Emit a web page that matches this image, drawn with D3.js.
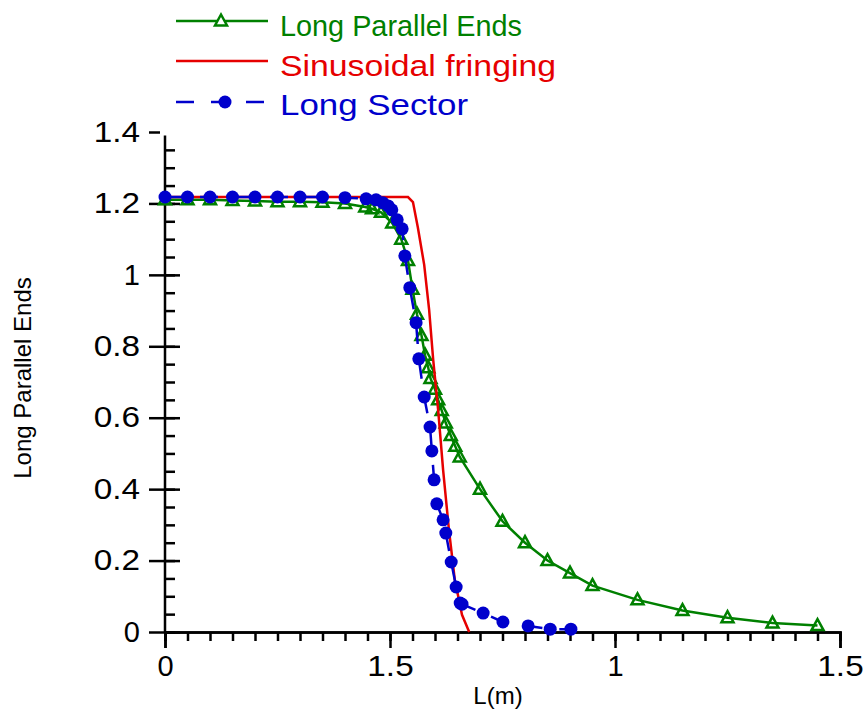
<!DOCTYPE html>
<html>
<head>
<meta charset="utf-8">
<script src="https://cdn.jsdelivr.net/npm/d3@7"></script>
<style>
  body { margin: 0; background: #fff; }
  svg text { font-family: "Liberation Sans", Arial, sans-serif; }
  .axis path, .axis line { stroke: #000; stroke-width: 2.5; }
</style>
</head>
<body>
<svg id="chart" width="863" height="728"></svg>
<script>
// tick values and the labels exactly as printed on the picture
var xTickValues = [0, 0.5, 1, 1.5]
var xTickLabels = ["0", "1.5", "1", "1.5"]
var yTickValues = [0, 0.2, 0.4, 0.6, 0.8, 1, 1.2, 1.4]
var yTickLabels = ["0", "0.2", "0.4", "0.6", "0.8", "1", "1.2", "1.4"]

var seriesNames = ["Long Parallel Ends", "Sinusoidal fringing", "Long Sector"]

// Long Parallel Ends (triangles)
var parallelX = [0, 0.05, 0.1, 0.15, 0.2, 0.25, 0.3, 0.35, 0.4, 0.445, 0.46, 0.48, 0.505,
  0.525, 0.54, 0.55, 0.56, 0.57, 0.578, 0.585, 0.59, 0.6, 0.607, 0.615, 0.624, 0.635,
  0.645, 0.655, 0.7, 0.75, 0.8, 0.85, 0.9, 0.95, 1.05, 1.15, 1.25, 1.35, 1.45]
var parallelY = [1.21, 1.21, 1.21, 1.208, 1.207, 1.205, 1.205, 1.203, 1.2, 1.19, 1.185,
  1.175, 1.145, 1.1, 1.04, 0.96, 0.89, 0.83, 0.775, 0.74, 0.71, 0.68, 0.65, 0.62, 0.585,
  0.55, 0.52, 0.49, 0.4, 0.31, 0.25, 0.2, 0.165, 0.13, 0.09, 0.06, 0.04, 0.025, 0.018]

// Sinusoidal fringing (plain line)
var sinusX = [0, 0.54, 0.551, 0.562, 0.576, 0.587, 0.596, 0.607, 0.618, 0.631, 0.644, 0.66, 0.676]
var sinusY = [1.218, 1.218, 1.204, 1.132, 1.028, 0.902, 0.762, 0.622, 0.454, 0.286, 0.146, 0.048, 0]

// Long Sector (dashed, circles)
var sectorX = [0, 0.05, 0.1, 0.15, 0.2, 0.25, 0.3, 0.35, 0.4, 0.447, 0.469, 0.484, 0.496,
  0.504, 0.516, 0.527, 0.533, 0.544, 0.558, 0.564, 0.576, 0.589, 0.593, 0.598, 0.604,
  0.618, 0.624, 0.636, 0.647, 0.656, 0.66, 0.707, 0.751, 0.807, 0.856, 0.902]
var sectorY = [1.218, 1.218, 1.218, 1.218, 1.218, 1.218, 1.218, 1.218, 1.216, 1.213, 1.21,
  1.202, 1.193, 1.182, 1.154, 1.129, 1.053, 0.964, 0.866, 0.765, 0.658, 0.574, 0.507,
  0.426, 0.359, 0.314, 0.277, 0.196, 0.126, 0.081, 0.078, 0.053, 0.028, 0.017, 0.008, 0.008]

var colors = { green: "#008000", red: "#e60000", blue: "#0000cc" }

var svg = d3.select("#chart")
var x = d3.scaleLinear().domain([0, 1.5]).range([165, 840])
var y = d3.scaleLinear().domain([0, 1.4]).range([632, 132])

function zip(xs, ys) {
  return xs.map(function(v, i) { return [v, ys[i]] })
}

// the original font has broader glyphs than Liberation Sans
function widen(sel, extra) {
  sel.each(function() {
    var t = d3.select(this)
    if (t.text().length > 1) {
      t.attr("textLength", this.getComputedTextLength() + extra)
        .attr("lengthAdjust", "spacingAndGlyphs")
    }
  })
}

// x axis: minor ticks every 0.05, major at the labelled values
var xMinor = d3.range(0, 31).map(function(i) { return i * 0.05 })
svg.append("g")
  .attr("class", "axis")
  .attr("transform", "translate(0," + y(0) + ")")
  .call(d3.axisBottom(x).tickValues(xMinor).tickSize(9).tickFormat(""))
svg.append("g")
  .attr("class", "axis")
  .attr("transform", "translate(0," + y(0) + ")")
  .call(d3.axisBottom(x).tickValues(xTickValues).tickSize(16).tickPadding(7)
    .tickFormat(function(d, i) { return xTickLabels[i] }))

// y axis: major ticks cross the axis, minor ticks point inward
var yMinor = d3.range(0, 28).map(function(i) { return i * 0.05 })
svg.append("g")
  .attr("class", "axis")
  .attr("transform", "translate(" + x(0) + ",0)")
  .call(d3.axisRight(y).tickValues(yMinor).tickSize(10).tickFormat(""))
  .select(".domain").remove()
svg.append("g")
  .attr("class", "axis")
  .attr("transform", "translate(" + x(0) + ",0)")
  .call(d3.axisRight(y).tickValues(yTickValues.slice(0, 7)).tickSize(15).tickFormat(""))
  .select(".domain").remove()
var yAxis = svg.append("g")
  .attr("class", "axis")
  .attr("transform", "translate(" + x(0) + ",0)")
  .call(d3.axisLeft(y).tickValues(yTickValues).tickSize(16).tickPadding(9)
    .tickFormat(function(d, i) { return yTickLabels[i] }))
yAxis.select(".domain").attr("d", "M0," + y(0) + "V" + y(1.39))
yAxis.selectAll(".tick line").filter(function(d) { return d === 1.4 })
  .attr("x1", -5).attr("x2", -16)

svg.selectAll(".axis text")
  .attr("font-size", "29px")
  .attr("fill", "#000")
  .style("font-family", "'Liberation Sans', Arial, sans-serif")
  .call(widen, 6)

svg.append("text")
  .attr("x", x(0.74))
  .attr("y", 704)
  .attr("text-anchor", "middle")
  .attr("font-size", "24px")
  .text("L(m)")
svg.append("text")
  .attr("transform", "translate(31," + 378 + ") rotate(-90)")
  .attr("text-anchor", "middle")
  .attr("font-size", "24px")
  .text("Long Parallel Ends")

var line = d3.line()
  .x(function(d) { return x(d[0]) })
  .y(function(d) { return y(d[1]) })

var triangle = "M0,-6.5L6,4.5L-6,4.5Z"

// Long Parallel Ends
var parallel = zip(parallelX, parallelY)
svg.append("path")
  .attr("d", line(parallel))
  .attr("fill", "none")
  .attr("stroke", colors.green)
  .attr("stroke-width", 2.5)
svg.append("g").selectAll("path")
  .data(parallel)
  .enter()
  .append("path")
  .attr("d", triangle)
  .attr("transform", function(d) { return "translate(" + x(d[0]) + "," + y(d[1]) + ")" })
  .attr("fill", "none")
  .attr("stroke", colors.green)
  .attr("stroke-width", 2.5)

// Sinusoidal fringing
svg.append("path")
  .attr("d", line(zip(sinusX, sinusY)))
  .attr("fill", "none")
  .attr("stroke", colors.red)
  .attr("stroke-width", 2.5)

// Long Sector
var sector = zip(sectorX, sectorY)
svg.append("path")
  .attr("d", line(sector))
  .attr("fill", "none")
  .attr("stroke", colors.blue)
  .attr("stroke-width", 2.5)
  .attr("stroke-dasharray", "18,17")
svg.append("g").selectAll("circle")
  .data(sector)
  .enter()
  .append("circle")
  .attr("cx", function(d) { return x(d[0]) })
  .attr("cy", function(d) { return y(d[1]) })
  .attr("r", 6.5)
  .attr("fill", colors.blue)

// legend
var legend = svg.append("g")
var rows = [
  { name: seriesNames[0], color: colors.green, ly: 21, ty: 36, w: 242 },
  { name: seriesNames[1], color: colors.red, ly: 61, ty: 76, w: 276 },
  { name: seriesNames[2], color: colors.blue, ly: 102, ty: 115, w: 188 }
]
rows.forEach(function(r, i) {
  var l = legend.append("line")
    .attr("x1", 176).attr("x2", 268)
    .attr("y1", r.ly).attr("y2", r.ly)
    .attr("stroke", r.color)
    .attr("stroke-width", 2.5)
  if (i === 0) {
    legend.append("path")
      .attr("d", triangle)
      .attr("transform", "translate(221," + r.ly + ")")
      .attr("fill", "#fff")
      .attr("stroke", r.color)
      .attr("stroke-width", 2.5)
  }
  if (i === 2) {
    l.attr("stroke-dasharray", "18,17")
    legend.append("circle")
      .attr("cx", 225).attr("cy", r.ly).attr("r", 6.5)
      .attr("fill", r.color)
  }
  legend.append("text")
    .attr("x", 280)
    .attr("y", r.ty)
    .attr("font-size", "30px")
    .attr("fill", r.color)
    .attr("textLength", r.w)
    .attr("lengthAdjust", "spacingAndGlyphs")
    .text(r.name)
})
</script>
</body>
</html>
